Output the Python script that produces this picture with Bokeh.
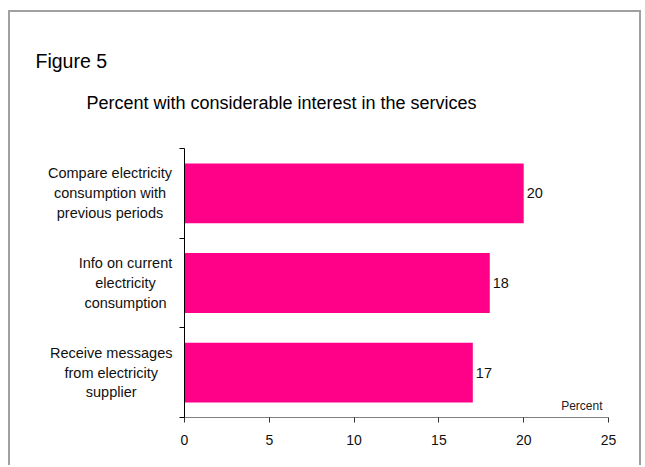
from bokeh.plotting import figure
from bokeh.models import Label, LabelSet, ColumnDataSource, FixedTicker, Range1d, LinearAxis
from bokeh.core.properties import value
from bokeh.embed import file_html
from bokeh.resources import INLINE

# ---- data ----
categories = [
    "Compare electricity\nconsumption with\nprevious periods",
    "Info on current\nelectricity\nconsumption",
    "Receive messages\nfrom electricity\nsupplier",
]
values = [20, 18, 17]
x_ticks = [0, 5, 10, 15, 20, 25]
x_max = 25
figure_label = "Figure 5"
title_text = "Percent with considerable interest in the services"
axis_unit = "Percent"

# ---- styling / layout ----
FONT = "Liberation Sans"
BAR_COLOR = "#FF0088"
TEXT_COLOR = "#111111"
cat_label_offsets = [-74.5, -59, -73.3]  # label block centres relative to y axis (px)

W, H = 633, 455                 # canvas size
PLOT_L, PLOT_R = 174, 598       # axis area in canvas px
PLOT_T, PLOT_B = 136, 405

n = len(categories)
ypos = [n - i - 0.5 for i in range(n)]

ppx = (PLOT_R - PLOT_L) / x_max
ppy = (PLOT_B - PLOT_T) / n
xr = Range1d(-PLOT_L / ppx, x_max + (W - PLOT_R) / ppx)
yr = Range1d(-(H - PLOT_B) / ppy, n + PLOT_T / ppy)

p = figure(
    width=W, height=H, x_range=xr, y_range=yr,
    x_axis_location=None, y_axis_location=None,
    output_backend="svg", toolbar_location=None,
    min_border=0,
)
p.styles = {
    "border-top": "2px solid #a0a0a0",
    "border-left": "2px solid #a0a0a0",
    "border-right": "2px solid #a0a0a0",
    "margin-left": "8px",
    "margin-top": "10px",
}
p.background_fill_color = "white"
p.border_fill_color = "white"
p.outline_line_color = None
p.xgrid.visible = False
p.ygrid.visible = False

# x axis
xa = LinearAxis(fixed_location=0, bounds=(0, x_max))
xa.ticker = FixedTicker(ticks=x_ticks)
xa.major_label_text_font = FONT
xa.major_label_text_font_size = "14px"
xa.major_label_text_color = TEXT_COLOR
xa.major_label_standoff = 12
xa.major_tick_out = 5
xa.major_tick_in = 0
xa.minor_tick_line_color = None
xa.axis_line_color = "#808080"
xa.major_tick_line_color = "#333333"
p.add_layout(xa, "below")

# y axis (ticks on category boundaries)
ya = LinearAxis(fixed_location=0, bounds=(0, n))
ya.ticker = FixedTicker(ticks=list(range(n + 1)))
ya.major_label_text_font_size = "0px"
ya.major_label_text_alpha = 0
ya.major_tick_out = 5
ya.major_tick_in = 0
ya.minor_tick_line_color = None
ya.axis_line_color = "black"
ya.major_tick_line_color = "black"
p.add_layout(ya, "left")

src = ColumnDataSource(dict(y=ypos, v=values, t=[str(v) for v in values]))
p.hbar(y="y", left=0, right="v", height=0.667, source=src,
       fill_color=BAR_COLOR, line_color=None)

p.add_layout(LabelSet(x="v", y="y", text="t", source=src, x_offset=3,
                      text_baseline="middle", text_align="left",
                      text_font=value(FONT), text_font_size=value("14.5px"),
                      text_color=TEXT_COLOR))

for cat, yy, off in zip(categories, ypos, cat_label_offsets):
    p.add_layout(Label(x=0, y=yy, text=cat, x_offset=off,
                       text_align="center", text_baseline="middle",
                       text_line_height=1.24,
                       text_font=FONT, text_font_size="14.5px", text_color=TEXT_COLOR))

p.add_layout(Label(x=x_max, y=0, text=axis_unit, x_offset=-6, y_offset=12,
                   text_align="right", text_baseline="middle",
                   text_font=FONT, text_font_size="12px", text_color="#222222"))

p.add_layout(Label(x=0, y=n, text=title_text, x_offset=97, y_offset=46,
                   text_align="center", text_baseline="alphabetic",
                   text_font=FONT, text_font_size="18px", text_color="#000000"))

p.add_layout(Label(x=0, y=n, text=figure_label, x_offset=-149, y_offset=88,
                   text_align="left", text_baseline="alphabetic",
                   text_font=FONT, text_font_size="19.5px", text_color="#000000"))

open("out.html", "w").write(file_html(p, INLINE))
